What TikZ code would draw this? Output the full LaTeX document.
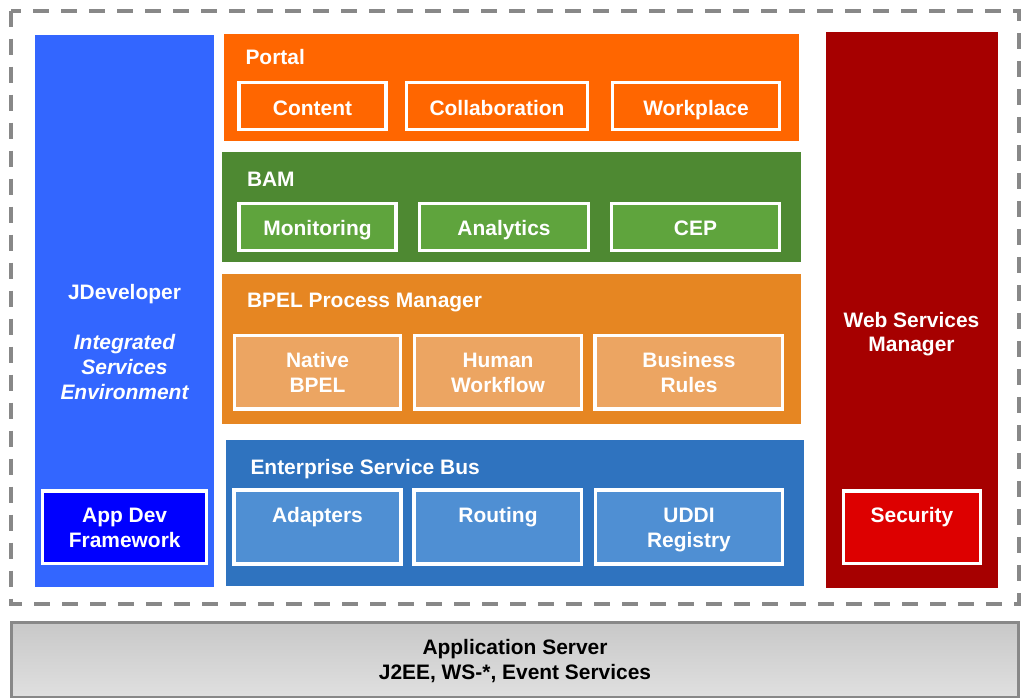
\documentclass[tikz,border=0pt]{standalone}
\usepackage{fontspec}
\setmainfont{Liberation Sans}

\tikzset{every picture/.style={line width=0.75pt}}
\tikzset{
  lbl/.style={font=\fontsize{15.7}{18.5}\selectfont\bfseries, color=white, inner sep=0.75pt, align=center},
  subbox/.style={draw=white, line width=2.5pt},
}

\begin{document}
\begin{tikzpicture}[x=0.75pt,y=0.75pt,yscale=-1,xscale=1]
\useasboundingbox (0,0) rectangle (1021,698);

%Shape: Rectangle [id:frame] 
\draw  [color={rgb, 255:red, 136; green, 136; blue, 136 }  ,draw opacity=1 ][line width=3pt, dash pattern=on 12pt off 9pt] (11.3,10.7) rectangle (1018.7,604) ;
%Shape: Rectangle [id:appserver] 
\draw  [color={rgb, 255:red, 136; green, 136; blue, 136 }  ,draw opacity=1 ][line width=2.5pt, top color={rgb, 255:red, 200; green, 200; blue, 200 }, bottom color={rgb, 255:red, 224; green, 224; blue, 224 }] (11.7,622.3) rectangle (1018.3,698) ;

%Shape: Rectangle [id:jdev] 
\fill  [color={rgb, 255:red, 51; green, 102; blue, 255 }] (35,34.7) rectangle (214,586.7) ;
%Shape: Rectangle [id:appdev] 
\draw  [subbox][fill={rgb, 255:red, 0; green, 0; blue, 255 }] (42.7,491) rectangle (206.7,563.3) ;

%Shape: Rectangle [id:portal] 
\fill  [color={rgb, 255:red, 255; green, 102; blue, 0 }] (224,34) rectangle (799,140.7) ;
\draw  [subbox][fill={rgb, 255:red, 255; green, 102; blue, 0 }] (239,82.3) rectangle (386,129.3) ;
\draw  [subbox][fill={rgb, 255:red, 255; green, 102; blue, 0 }] (406.7,82.3) rectangle (587.3,129.3) ;
\draw  [subbox][fill={rgb, 255:red, 255; green, 102; blue, 0 }] (612.7,82.3) rectangle (779.3,129.3) ;

%Shape: Rectangle [id:bam] 
\fill  [color={rgb, 255:red, 78; green, 137; blue, 50 }] (222.3,152.3) rectangle (800.5,262.3) ;
\draw  [subbox][fill={rgb, 255:red, 95; green, 164; blue, 61 }] (239,203.3) rectangle (396,250.7) ;
\draw  [subbox][fill={rgb, 255:red, 95; green, 164; blue, 61 }] (419.3,203.3) rectangle (588.3,250.7) ;
\draw  [subbox][fill={rgb, 255:red, 95; green, 164; blue, 61 }] (611.7,203.3) rectangle (779.3,250.7) ;

%Shape: Rectangle [id:bpel] 
\fill  [color={rgb, 255:red, 230; green, 134; blue, 34 }] (222.3,274) rectangle (801,424.3) ;
\draw  [subbox][fill={rgb, 255:red, 236; green, 165; blue, 98 }] (234.7,335.7) rectangle (400.3,409) ;
\draw  [subbox][fill={rgb, 255:red, 236; green, 165; blue, 98 }] (414.7,335.7) rectangle (581.7,409) ;
\draw  [subbox][fill={rgb, 255:red, 236; green, 165; blue, 98 }] (595,335.7) rectangle (782.7,409) ;

%Shape: Rectangle [id:esb] 
\fill  [color={rgb, 255:red, 47; green, 115; blue, 191 }] (225.7,440) rectangle (804.3,585.7) ;
\draw  [subbox][fill={rgb, 255:red, 79; green, 143; blue, 211 }] (234,490) rectangle (401,564) ;
\draw  [subbox][fill={rgb, 255:red, 79; green, 143; blue, 211 }] (414,490) rectangle (581.3,564) ;
\draw  [subbox][fill={rgb, 255:red, 79; green, 143; blue, 211 }] (595.7,490) rectangle (782.3,564) ;

%Shape: Rectangle [id:wsm] 
\fill  [color={rgb, 255:red, 166; green, 0; blue, 0 }] (825.7,32.3) rectangle (997.7,588.3) ;
\draw  [subbox][fill={rgb, 255:red, 221; green, 0; blue, 0 }] (843.3,491) rectangle (980.7,563.3) ;

% Text Node
\draw (124.5,300) node [anchor=base][lbl] (jdevT) {JDeveloper};
% Text Node
\draw (124.5,399.3) node [anchor=base][lbl, font=\fontsize{15.7}{18.5}\selectfont\bfseries\itshape] (iseT) {Integrated\\Services\\Environment};
% Text Node
\draw (124.7,547.2) node [anchor=base][lbl] (appdevT) {App Dev\\Framework};
% Text Node
\draw (244,65) node [anchor=base west][lbl] (portalT) {Portal};
% Text Node
\draw (312.5,115.5) node [anchor=base][lbl] (contentT) {Content};
% Text Node
\draw (497,115.5) node [anchor=base][lbl] (collabT) {Collaboration};
% Text Node
\draw (696,115.5) node [anchor=base][lbl] (workplaceT) {Workplace};
% Text Node
\draw (245.5,186.7) node [anchor=base west][lbl] (bamT) {BAM};
% Text Node
\draw (317.5,236) node [anchor=base][lbl] (monitorT) {Monitoring};
% Text Node
\draw (504,236) node [anchor=base][lbl] (analyticsT) {Analytics};
% Text Node
\draw (695.5,236) node [anchor=base][lbl] (cepT) {CEP};
% Text Node
\draw (245.5,308) node [anchor=base west][lbl] (bpelT) {BPEL Process Manager};
% Text Node
\draw (317.5,392.5) node [anchor=base][lbl] (nativeT) {Native\\BPEL};
% Text Node
\draw (498,392.5) node [anchor=base][lbl] (humanT) {Human\\Workflow};
% Text Node
\draw (689,392.5) node [anchor=base][lbl] (rulesT) {Business\\Rules};
% Text Node
\draw (249,474.3) node [anchor=base west][lbl] (esbT) {Enterprise Service Bus};
% Text Node
\draw (317.5,522.5) node [anchor=base][lbl] (adaptersT) {Adapters};
% Text Node
\draw (498,522.5) node [anchor=base][lbl] (routingT) {Routing};
% Text Node
\draw (689,547.2) node [anchor=base][lbl] (uddiT) {UDDI\\Registry};
% Text Node
\draw (911.5,351.7) node [anchor=base][lbl] (wsmT) {Web Services\\Manager};
% Text Node
\draw (912,522.5) node [anchor=base][lbl] (securityT) {Security};
% Text Node
\draw (515,679) node [anchor=base][lbl, color=black] (appserverT) {Application Server\\J2EE, WS-*, Event Services};

\end{tikzpicture}
\end{document}
